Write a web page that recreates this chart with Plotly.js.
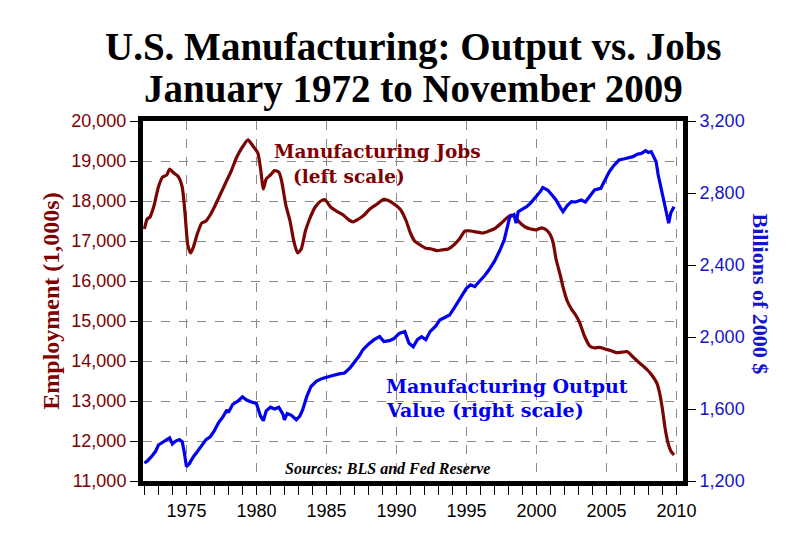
<!DOCTYPE html>
<html>
<head>
<meta charset="utf-8">
<script src="https://cdn.plot.ly/plotly-3.0.1.min.js"></script>
<style>html,body{margin:0;padding:0;background:#fff;}#chart{width:812px;height:550px;}</style>
</head>
<body>
<div id="chart"></div>
<script>
// Manufacturing jobs (thousands), left scale
const jobsYear = [1972.0,1972.2,1972.4,1972.7,1973.0,1973.3,1973.6,1973.8,1974.1,1974.4,1974.7,1974.9,1975.1,1975.3,1975.5,1975.8,1976.1,1976.4,1976.7,1977.0,1977.4,1977.8,1978.2,1978.6,1979.0,1979.4,1979.7,1980.1,1980.3,1980.5,1980.7,1981.0,1981.3,1981.6,1981.8,1982.1,1982.4,1982.7,1982.95,1983.2,1983.5,1983.8,1984.2,1984.6,1984.9,1985.3,1985.7,1986.2,1986.6,1986.9,1987.3,1987.7,1988.1,1988.6,1989.1,1989.5,1990.0,1990.3,1990.7,1991.0,1991.3,1991.7,1992.1,1992.5,1992.9,1993.3,1993.7,1994.1,1994.5,1994.9,1995.3,1995.8,1996.2,1996.7,1997.1,1997.5,1997.9,1998.2,1998.5,1998.9,1999.2,1999.6,2000.0,2000.4,2000.7,2001.0,2001.2,2001.4,2001.7,2001.9,2002.2,2002.5,2002.8,2003.1,2003.4,2003.8,2004.1,2004.5,2004.9,2005.3,2005.7,2006.1,2006.5,2006.9,2007.3,2007.7,2008.0,2008.3,2008.6,2008.8,2009.0,2009.2,2009.4,2009.6,2009.83];
const jobsVal = [17300,17550,17600,17900,18350,18600,18650,18800,18700,18620,18350,17700,16900,16700,16850,17200,17450,17500,17650,17850,18150,18450,18750,19100,19350,19530,19400,19200,18800,18300,18550,18650,18760,18720,18500,17900,17500,16950,16700,16800,17250,17550,17850,18000,18030,17850,17750,17650,17530,17480,17550,17650,17800,17920,18040,18000,17880,17780,17500,17200,17000,16900,16820,16800,16760,16780,16800,16900,17050,17250,17250,17220,17200,17260,17330,17450,17580,17650,17580,17430,17350,17300,17280,17330,17280,17150,16950,16550,16150,15850,15500,15300,15150,14950,14650,14380,14330,14340,14300,14260,14210,14220,14230,14100,13970,13850,13750,13620,13450,13200,12800,12300,11950,11750,11650];

// Manufacturing output value (billions of 2000 $), right scale
const outYear = [1972.0,1972.2,1972.5,1972.8,1973.0,1973.3,1973.6,1973.8,1974.0,1974.2,1974.5,1974.7,1974.85,1975.0,1975.2,1975.5,1975.8,1976.1,1976.4,1976.7,1977.0,1977.3,1977.6,1977.9,1978.0,1978.3,1978.7,1979.0,1979.3,1979.6,1980.0,1980.3,1980.5,1980.7,1981.0,1981.3,1981.6,1981.9,1982.0,1982.2,1982.5,1982.85,1983.1,1983.3,1983.6,1983.9,1984.3,1984.7,1985.0,1985.4,1985.9,1986.3,1986.7,1987.0,1987.3,1987.6,1988.0,1988.4,1988.8,1989.1,1989.5,1989.8,1990.2,1990.6,1990.9,1991.2,1991.5,1991.8,1992.1,1992.4,1992.8,1993.1,1993.5,1993.8,1994.2,1994.6,1995.0,1995.3,1995.6,1995.9,1996.3,1996.6,1997.0,1997.4,1997.7,1998.1,1998.4,1998.55,1998.7,1999.0,1999.3,1999.6,2000.0,2000.3,2000.45,2000.8,2001.1,2001.4,2001.7,2001.9,2002.2,2002.5,2002.8,2003.2,2003.5,2003.8,2004.15,2004.6,2004.9,2005.2,2005.5,2005.9,2006.3,2006.6,2006.9,2007.2,2007.5,2007.8,2008.0,2008.2,2008.4,2008.55,2008.7,2008.8,2009.0,2009.1,2009.3,2009.45,2009.6,2009.7,2009.83];
const outVal = [1300,1310,1335,1365,1400,1415,1425,1440,1405,1420,1430,1418,1360,1280,1295,1335,1365,1400,1430,1445,1480,1525,1555,1595,1580,1625,1645,1668,1650,1640,1630,1560,1535,1590,1610,1600,1610,1570,1540,1575,1565,1540,1560,1595,1670,1725,1755,1770,1775,1785,1795,1800,1830,1860,1890,1928,1960,1985,2002,1975,1980,1990,2020,2030,1965,1946,1985,2002,1985,2030,2060,2094,2110,2122,2170,2220,2270,2290,2280,2307,2340,2372,2420,2483,2539,2668,2680,2632,2696,2710,2724,2745,2780,2810,2830,2817,2790,2761,2720,2696,2730,2752,2750,2761,2750,2780,2817,2826,2870,2918,2950,2983,2990,2995,3002,3015,3020,3035,3025,3030,3000,2974,2900,2863,2780,2743,2680,2632,2690,2706,2724];

const titleLine1 = "U.S. Manufacturing: Output vs. Jobs";
const titleLine2 = "January 1972 to November 2009";
const leftTickVals = [11000,12000,13000,14000,15000,16000,17000,18000,19000,20000];
const rightTickVals = [1200,1600,2000,2400,2800,3200];

const MAROON = "#7a0505";
const MAROON_TXT = "#800000";
const BLUE = "#0000ee";
const BLUE_TXT = "#1414cc";
const SERIF = "Liberation Serif, Times New Roman, serif";
const DJ = "DejaVu Serif, serif";

const traces = [
  {x: outYear, y: outVal, yaxis: "y2", type: "scatter", mode: "lines",
   line: {color: BLUE, width: 3.2}, hoverinfo: "skip"},
  {x: jobsYear, y: jobsVal, yaxis: "y", type: "scatter", mode: "lines",
   line: {color: MAROON, width: 3.2, shape: "spline", smoothing: 0.6}, hoverinfo: "skip"}
];

const layout = {
  width: 812, height: 550,
  margin: {l: 143, r: 129, t: 121, b: 69},
  paper_bgcolor: "#fff", plot_bgcolor: "#fff",
  showlegend: false,
  font: {family: "Liberation Sans, Arial, sans-serif", size: 18, color: "#000"},
  xaxis: {
    range: [1971.9, 2010.47], tick0: 1975, dtick: 5,
    ticks: "outside", ticklen: 9, tickcolor: "#000", tickwidth: 1,
    showgrid: true, gridcolor: "#8a8a8a", griddash: "dash", gridwidth: 1,
    showline: true, linecolor: "#000", linewidth: 5, mirror: true,
    zeroline: false, tickfont: {size: 18, color: "#000"},
    minor: {dtick: 1, tick0: 1972, ticks: "outside", ticklen: 9, tickcolor: "#000", tickwidth: 1, showgrid: false}
  },
  yaxis: {
    range: [11000, 20000], tickvals: leftTickVals, tickformat: ",d",
    ticks: "outside", ticklen: 8, tickcolor: "#000", tickwidth: 1,
    showgrid: true, gridcolor: "#8a8a8a", griddash: "dash", gridwidth: 1,
    showline: true, linecolor: "#000", linewidth: 5, mirror: true,
    zeroline: false, tickfont: {size: 18, color: MAROON_TXT},
    title: {text: "<b>Employment (1,000s)</b>", font: {family: SERIF, size: 24, color: MAROON_TXT}, standoff: 6}
  },
  yaxis2: {
    overlaying: "y", side: "right",
    range: [1200, 3200], tickvals: rightTickVals, tickformat: ",d",
    ticks: "outside", ticklen: 8, tickcolor: "#000", tickwidth: 1,
    showgrid: false, showline: true, linecolor: "#000", linewidth: 5,
    zeroline: false, tickfont: {size: 18, color: BLUE_TXT}
  },
  annotations: [
    {text: "<b>" + titleLine1 + "</b>", xref: "paper", yref: "paper", x: 0.5, y: 1.205,
     xanchor: "center", yanchor: "middle", showarrow: false,
     font: {family: SERIF, size: 39, color: "#000"}},
    {text: "<b>" + titleLine2 + "</b>", xref: "paper", yref: "paper", x: 0.5, y: 1.088,
     xanchor: "center", yanchor: "middle", showarrow: false,
     font: {family: SERIF, size: 39, color: "#000"}},
    {text: "<b>Billions of 2000 $</b>", xref: "paper", yref: "paper", x: 1.143, y: 0.52,
     xanchor: "center", yanchor: "middle", showarrow: false, textangle: 90,
     font: {family: SERIF, size: 22, color: BLUE_TXT}},
    {text: "<b>Manufacturing Jobs</b>", xref: "paper", yref: "paper", x: 0.239, y: 0.914,
     xanchor: "left", yanchor: "middle", showarrow: false,
     font: {family: DJ, size: 18.5, color: MAROON_TXT}},
    {text: "<b>(left scale)</b>", xref: "paper", yref: "paper", x: 0.274, y: 0.847,
     xanchor: "left", yanchor: "middle", showarrow: false,
     font: {family: DJ, size: 18.5, color: MAROON_TXT}},
    {text: "<b>Manufacturing Output</b>", xref: "paper", yref: "paper", x: 0.446, y: 0.264,
     xanchor: "left", yanchor: "middle", showarrow: false,
     font: {family: DJ, size: 19, color: BLUE}},
    {text: "<b>Value (right scale)</b>", xref: "paper", yref: "paper", x: 0.446, y: 0.197,
     xanchor: "left", yanchor: "middle", showarrow: false,
     font: {family: DJ, size: 19, color: BLUE}},
    {text: "<b><i>Sources: BLS and Fed Reserve</i></b>", xref: "paper", yref: "paper", x: 0.452, y: 0.036,
     xanchor: "center", yanchor: "middle", showarrow: false,
     font: {family: SERIF, size: 16, color: "#000"}}
  ]
};

Plotly.newPlot("chart", traces, layout, {displayModeBar: false, staticPlot: true});
</script>
</body>
</html>
